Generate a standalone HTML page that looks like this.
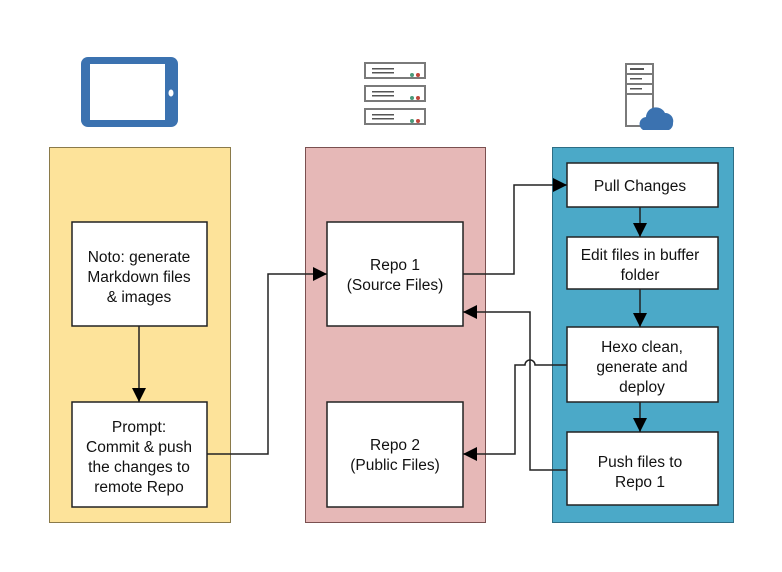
<!DOCTYPE html><html><head><style>body{margin:0;background:#fff}svg{display:block}text{font-family:"Liberation Sans",sans-serif;font-size:15.5px;fill:#111;text-anchor:middle}</style></head><body>
<svg width="782" height="572" viewBox="0 0 782 572">
<defs><marker id="b" viewBox="0 0 10 10" markerWidth="14" markerHeight="14" refX="10" refY="5" orient="auto" markerUnits="userSpaceOnUse"><path d="M0,0L10,5L0,10z" fill="#000"/></marker></defs>
<!-- icons -->
<rect x="81" y="57" width="97" height="70" rx="7" fill="#3b72b0"/>
<rect x="90" y="64" width="75" height="56" fill="#fff"/>
<ellipse cx="171" cy="93" rx="2.5" ry="3.5" fill="#fff"/>
<g fill="#fff" stroke="#7a7a7a" stroke-width="2">
<rect x="365" y="63" width="60" height="15"/><rect x="365" y="86" width="60" height="15"/><rect x="365" y="109" width="60" height="15"/>
<rect x="626" y="64" width="27" height="62"/><line x1="626" y1="74" x2="653" y2="74"/><line x1="626" y1="84" x2="653" y2="84"/><line x1="626" y1="94" x2="653" y2="94"/></g>
<g fill="#555"><rect x="372" y="68" width="22" height="1.5"/><rect x="372" y="72" width="22" height="1.5"/><rect x="372" y="91" width="22" height="1.5"/><rect x="372" y="95" width="22" height="1.5"/><rect x="372" y="114" width="22" height="1.5"/><rect x="372" y="118" width="22" height="1.5"/><rect x="630" y="68" width="14" height="2"/><rect x="630" y="78" width="12" height="1.5"/><rect x="630" y="88" width="12" height="1.5"/></g>
<g fill="#4a9a7a"><circle cx="412" cy="75" r="2"/><circle cx="412" cy="98" r="2"/><circle cx="412" cy="121" r="2"/></g>
<g fill="#c0463a"><circle cx="418" cy="75" r="2"/><circle cx="418" cy="98" r="2"/><circle cx="418" cy="121" r="2"/></g>
<path d="M643,130 a7,7 0 0 1 3,-13 a10,10 0 0 1 19,-4 a8,8 0 0 1 8,10 a7,7 0 0 1 -4,7 z" fill="#3b72b0"/>
<!-- columns -->
<rect x="49.5" y="147.5" width="181" height="375" fill="#fde39a" stroke="#8a7a4a"/>
<rect x="305.5" y="147.5" width="180" height="375" fill="#e6b8b7" stroke="#7a5050"/>
<rect x="552.5" y="147.5" width="181" height="375" fill="#4ba9c8" stroke="#2e6e85"/>
<g fill="#fff" stroke="#222" stroke-width="1.5">
<rect x="72" y="222" width="135" height="104"/><rect x="72" y="402" width="135" height="105"/>
<rect x="327" y="222" width="136" height="104"/><rect x="327" y="402" width="136" height="105"/>
<rect x="567" y="163" width="151" height="44"/><rect x="567" y="237" width="151" height="52"/>
<rect x="567" y="327" width="151" height="75"/><rect x="567" y="432" width="151" height="73"/></g>
<g fill="none" stroke="#222" stroke-width="1.5">
<path d="M139,326V402" marker-end="url(#b)"/>
<path d="M207,454H268V274H327" marker-end="url(#b)"/>
<path d="M463,274H514V185H567" marker-end="url(#b)"/>
<path d="M640,207V237" marker-end="url(#b)"/>
<path d="M640,289V327" marker-end="url(#b)"/>
<path d="M640,402V432" marker-end="url(#b)"/>
<path d="M567,470H530V312H463" marker-end="url(#b)"/>
<path d="M567,365H535a5,5 0 0 0 -10,0H515V454H463" marker-end="url(#b)"/>
</g>
<text x="139" y="262">Noto: generate</text><text x="139" y="282">Markdown files</text><text x="139" y="302">&amp; images</text>
<text x="139" y="432">Prompt:</text><text x="139" y="452">Commit &amp; push</text><text x="139" y="472">the changes to</text><text x="139" y="492">remote Repo</text>
<text x="395" y="270">Repo 1</text><text x="395" y="290">(Source Files)</text>
<text x="395" y="450">Repo 2</text><text x="395" y="470">(Public Files)</text>
<text x="640" y="191">Pull Changes</text>
<text x="640" y="260">Edit files in buffer</text><text x="640" y="280">folder</text>
<text x="642" y="352">Hexo clean,</text><text x="642" y="372">generate and</text><text x="642" y="392">deploy</text>
<text x="640" y="467">Push files to</text><text x="640" y="487">Repo 1</text>
</svg></body></html>
